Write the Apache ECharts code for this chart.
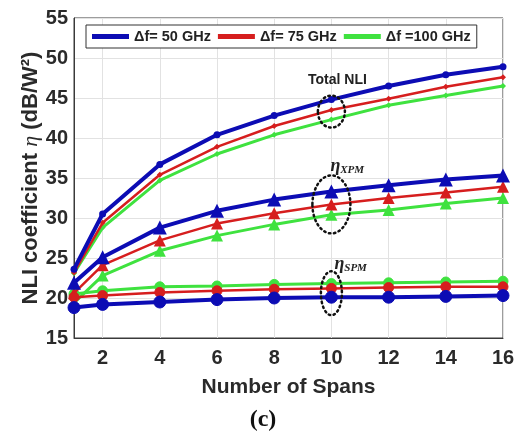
<!DOCTYPE html>
<html>
<head>
<meta charset="utf-8">
<script src="https://cdn.jsdelivr.net/npm/echarts@6/dist/echarts.min.js"></script>
<style>
  html, body { margin: 0; padding: 0; background: #fff; }
  #chart { width: 524px; height: 436px; }
</style>
</head>
<body>
<div id="chart"></div>
<script>
// number of spans (x) and the three NLI contributions per channel spacing
const spans = [1, 2, 4, 6, 8, 10, 12, 14, 16];
const xTickLabels = [2, 4, 6, 8, 10, 12, 14, 16];
const yTicks = [15, 20, 25, 30, 35, 40, 45, 50, 55];

const total50 = [23.6, 30.5, 36.7, 40.4, 42.8, 44.8, 46.5, 47.9, 48.9];
const total75 = [23.2, 29.4, 35.4, 38.9, 41.5, 43.5, 44.9, 46.4, 47.6];
const total100 = [23.1, 28.8, 34.7, 38.0, 40.4, 42.3, 44.1, 45.3, 46.5];

const xpm50 = [21.9, 25.1, 28.8, 30.9, 32.3, 33.3, 34.1, 34.8, 35.3];
const xpm75 = [20.6, 24.1, 27.2, 29.3, 30.6, 31.7, 32.5, 33.2, 33.9];
const xpm100 = [19.4, 22.8, 25.9, 27.8, 29.2, 30.4, 31.0, 31.8, 32.5];

const spm50 = [18.8, 19.2, 19.5, 19.8, 20.0, 20.1, 20.1, 20.2, 20.3];
const spm75 = [20.1, 20.3, 20.7, 20.9, 21.1, 21.2, 21.3, 21.4, 21.4];
const spm100 = [20.5, 20.9, 21.4, 21.5, 21.7, 21.8, 21.9, 22.0, 22.1];

const names = ['Δf= 50 GHz', 'Δf= 75 GHz', 'Δf =100 GHz'];
const colors = ['#0c0cb4', '#d61e1e', '#3fe23f'];
const widths = [4, 2.5, 3];

const FONT = '"Liberation Sans", Arial, sans-serif';
const SERIF = '"Liberation Serif", "Times New Roman", serif';

function pts(arr) {
  return spans.map((s, i) => [s, arr[i]]);
}

const groups = [
  [total50, xpm50, spm50],
  [total75, xpm75, spm75],
  [total100, xpm100, spm100]
];

const series = [];
// draw green first so blue ends up on top, like the original
[2, 1, 0].forEach(k => {
  const [tot, xpm, spm] = groups[k];
  const base = {
    name: names[k],
    type: 'line',
    color: colors[k],
    lineStyle: { width: widths[k], color: colors[k] },
    itemStyle: { color: colors[k] },
    emphasis: { disabled: true },
    z: 3 + (2 - k),
    animation: false
  };
  series.push(Object.assign({}, base, {
    data: pts(tot), symbol: k === 0 ? 'circle' : 'diamond', symbolSize: k === 0 ? 7 : 6
  }));
  series.push(Object.assign({}, base, {
    data: pts(xpm), symbol: 'triangle', symbolSize: k === 0 ? 14 : 12
  }));
  series.push(Object.assign({}, base, {
    data: pts(spm), symbol: 'circle', symbolSize: k === 0 ? 12 : 10,
    itemStyle: { color: colors[k], borderColor: colors[k], borderWidth: 1 }
  }));
});

const chart = echarts.init(document.getElementById('chart'));
chart.setOption({
  backgroundColor: '#fff',
  animation: false,
  textStyle: { fontFamily: FONT },
  grid: {
    left: 74, right: 21, top: 18, bottom: 98,
    show: true, borderColor: '#3a3a3a', borderWidth: 1, backgroundColor: '#fff'
  },
  legend: {
    data: names,
    left: 86, top: 25,
    icon: 'rect', itemWidth: 37, itemHeight: 5, itemGap: 7,
    padding: [4, 6, 4, 6],
    borderColor: '#333', borderWidth: 1, backgroundColor: '#fff',
    textStyle: { fontFamily: FONT, fontWeight: 'bold', fontSize: 14.5, color: '#222' }
  },
  xAxis: {
    type: 'value', min: 1, max: 16, interval: 1,
    name: 'Number of Spans', nameLocation: 'middle', nameGap: 39,
    nameTextStyle: { fontFamily: FONT, fontWeight: 'bold', fontSize: 21, color: '#2a2a2a' },
    axisLine: { show: true, onZero: false, lineStyle: { color: '#3a3a3a' } },
    axisTick: { show: false },
    axisLabel: {
      fontFamily: FONT, fontWeight: 'bold', fontSize: 20, color: '#2a2a2a', margin: 10,
      formatter: v => (xTickLabels.indexOf(v) >= 0 ? String(v) : '')
    },
    splitLine: { show: true, lineStyle: { color: ['rgba(0,0,0,0)', '#e2e2e2'], width: 1 } }
  },
  yAxis: {
    type: 'value', min: yTicks[0], max: yTicks[yTicks.length - 1], interval: 5,
    name: 'NLI coefficient {e|η} (dB/W²)', nameLocation: 'middle', nameGap: 32,
    nameMoveOverlap: false,
    nameTextStyle: {
      fontFamily: FONT, fontWeight: 'bold', fontSize: 22, color: '#2a2a2a',
      rich: { e: { fontFamily: SERIF, fontStyle: 'italic', fontWeight: 'normal', fontSize: 22, color: '#2a2a2a' } }
    },
    axisLine: { show: true, lineStyle: { color: '#3a3a3a' } },
    axisTick: { show: false },
    axisLabel: { fontFamily: FONT, fontWeight: 'bold', fontSize: 20, color: '#2a2a2a', margin: 6 },
    splitLine: { show: true, lineStyle: { color: '#e2e2e2', width: 1 } }
  },
  series: series
});

// dotted ellipses and labels around the Δs = 10 points
function px(x, y) { return chart.convertToPixel({ gridIndex: 0 }, [x, y]); }
const cTot = px(10, 43.3);
const cXpm = px(10, 31.7);
const cSpm = px(10, 20.6);
const dot = { fill: null, stroke: '#111', lineWidth: 2.5, lineDash: [1.5, 3.5], lineCap: 'round' };
function etaText(x, y, sub) {
  return {
    type: 'text', x: x, y: y, z: 100,
    style: {
      text: '{e|η}{s|' + sub + '}',
      textVerticalAlign: 'middle',
      rich: {
        e: { fontFamily: SERIF, fontStyle: 'italic', fontWeight: 'bold', fontSize: 18, fill: '#222' },
        s: { fontFamily: SERIF, fontStyle: 'italic', fontWeight: 'bold', fontSize: 11, fill: '#222', verticalAlign: 'bottom' }
      }
    }
  };
}
chart.setOption({
  graphic: [
    { type: 'ellipse', z: 100, shape: { cx: cTot[0], cy: cTot[1], rx: 13.5, ry: 16 }, style: dot },
    { type: 'ellipse', z: 100, shape: { cx: cXpm[0], cy: cXpm[1], rx: 19, ry: 29 }, style: dot },
    { type: 'ellipse', z: 100, shape: { cx: cSpm[0], cy: cSpm[1], rx: 10.5, ry: 22 }, style: dot },
    {
      type: 'text', x: cTot[0] + 6, y: cTot[1] - 31, z: 100,
      style: { text: 'Total NLI', textAlign: 'center', textVerticalAlign: 'middle',
        font: 'bold 14px ' + FONT, fill: '#222' }
    },
    etaText(cXpm[0] - 1, cXpm[1] - 38, 'XPM'),
    etaText(cSpm[0] + 3, cSpm[1] - 29, 'SPM'),
    {
      type: 'text', x: 263, y: 420, z: 100,
      style: { text: '(c)', textAlign: 'center', textVerticalAlign: 'middle',
        font: 'bold 24px ' + SERIF, fill: '#111' }
    }
  ]
});
</script>
</body>
</html>
